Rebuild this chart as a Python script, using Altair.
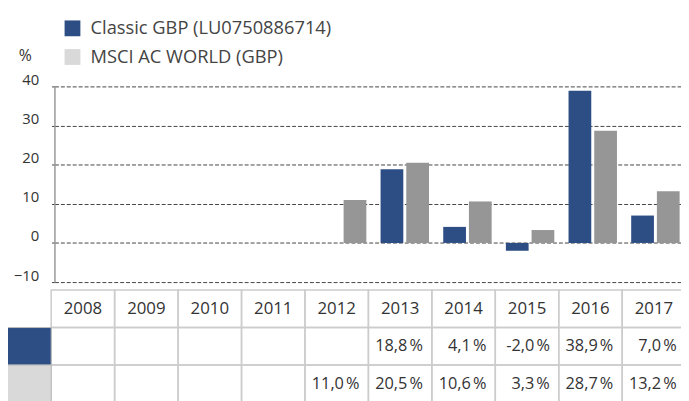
import altair as alt
import pandas as pd

# ---------------- data ----------------
years = ["2008", "2009", "2010", "2011", "2012", "2013", "2014", "2015", "2016", "2017"]
fund_name = "Classic GBP (LU0750886714)"
index_name = "MSCI AC WORLD (GBP)"
fund_values = [None, None, None, None, None, 18.8, 4.1, -2.0, 38.9, 7.0]
index_values = [None, None, None, None, 11.0, 20.5, 10.6, 3.3, 28.7, 13.2]
y_ticks = [-10, 0, 10, 20, 30, 40]

series_names = [fund_name, index_name]
row_keys = ["header", fund_name, index_name]

# ---------------- style ----------------
BLUE = "#2c4e85"
GRAY = "#969696"
LIGHT = "#d9d9d9"
TEXT = "#333333"
FONT = "Open Sans"
W, H = 634, 393


def fmt(v):
    if v is None:
        return ""
    return f"{v:.1f}".replace(".", ",") + "\u202f%"


rows = []
for i, (y, fv, iv) in enumerate(zip(years, fund_values, index_values)):
    for s, v in ((fund_name, fv), (index_name, iv)):
        rows.append({"year": y, "col": i, "series": s, "value": v, "label": fmt(v)})
df = pd.DataFrame(rows)
bars_df = df.dropna(subset=["value"])
values_df = df[df["label"] != ""].rename(columns={"series": "row"})

cells_df = pd.DataFrame([{"col": i, "row": r} for i in range(len(years)) for r in row_keys])
header_df = pd.DataFrame([{"col": i, "row": "header", "label": y} for i, y in enumerate(years)])
swatch_df = pd.DataFrame([{"series": s} for s in series_names])

# ---------------- scales ----------------
bar_x = alt.Scale(domain=years, paddingInner=0, paddingOuter=0)
bar_off = alt.Scale(domain=series_names, paddingInner=0.1154, paddingOuter=0.2769, align=0.903)
bar_y = alt.Scale(domain=[-10, 40], range=[275, 77], nice=False, zero=False)
# table columns in "column units": one unit per year column
tab_x = alt.Scale(domain=[0.0514, 9.927], nice=False, zero=False)
tab_y = alt.Scale(domain=row_keys, range=[283, 397], paddingInner=0, paddingOuter=0)

bars = alt.Chart(bars_df).mark_bar().encode(
    x=alt.X("year:N", scale=bar_x, axis=None),
    xOffset=alt.XOffset("series:N", scale=bar_off),
    y=alt.Y(
        "value:Q",
        scale=bar_y,
        axis=alt.Axis(
            values=y_ticks,
            title="%",
            titleAngle=0,
            titleX=-30,
            titleY=51,
            titleAlign="center",
            titleBaseline="alphabetic",
            titleFont=FONT,
            titleFontSize=16,
            titleFontWeight="normal",
            titleColor=TEXT,
            labelFont=FONT,
            labelFontSize=15,
            labelColor=TEXT,
            labelAlign="right",
            labelBaseline="alphabetic",
            labelOffset=-2,
            labelPadding=13,
            ticks=True,
            tickSize=3,
            tickColor="#444444",
            domainColor="#999999",
            domainWidth=1.5,
            grid=True,
            gridColor="#444444",
            gridDash=[4, 2],
            gridWidth=1,
        ),
    ),
    color=alt.Color("series:N", scale=alt.Scale(domain=series_names, range=[BLUE, GRAY]), legend=None),
)

col_base = alt.Chart(cells_df).transform_calculate(col_end="datum.col + 1")

cells = col_base.mark_rect(fillOpacity=0, stroke="#cccccc", strokeWidth=1.5).encode(
    x=alt.X("col:Q", scale=tab_x, axis=None),
    x2="col_end:Q",
    y=alt.Y("row:N", scale=tab_y, axis=None),
)

header_text = (
    alt.Chart(header_df)
    .transform_calculate(mid="datum.col + 0.5")
    .mark_text(align="center", baseline="middle", font=FONT, fontSize=17, color=TEXT)
    .encode(
        x=alt.X("mid:Q", scale=tab_x, axis=None),
        y=alt.Y("row:N", scale=tab_y, axis=None),
        text="label:N",
    )
)

value_text = (
    alt.Chart(values_df)
    .transform_calculate(right="datum.col + 1")
    .mark_text(align="right", baseline="middle", font=FONT, fontSize=16.5, color=TEXT, dx=-9)
    .encode(
        x=alt.X("right:Q", scale=tab_x, axis=None),
        y=alt.Y("row:N", scale=tab_y, axis=None),
        text="label:N",
    )
)

swatches = (
    alt.Chart(swatch_df)
    .transform_calculate(k0="-0.72", k1="0")
    .mark_rect(stroke="#bbbbbb", strokeWidth=1)
    .encode(
        x=alt.X("k0:Q", scale=tab_x, axis=None),
        x2="k1:Q",
        y=alt.Y("series:N", scale=tab_y, axis=None),
        fill=alt.Fill(
            "series:N",
            scale=alt.Scale(domain=series_names, range=[BLUE, LIGHT]),
            legend=alt.Legend(
                title=None,
                orient="none",
                legendX=9,
                legendY=9,
                direction="vertical",
                symbolType="square",
                symbolSize=256,
                symbolStrokeWidth=0,
                labelFont=FONT,
                labelFontSize=18.5,
                labelColor="#444444",
                labelOffset=9,
                labelLimit=400,
                rowPadding=10,
                padding=0,
            ),
        ),
    )
)

chart = (
    alt.layer(bars, cells, header_text, value_text, swatches)
    .resolve_scale(x="independent", y="independent", color="independent", fill="independent")
    .properties(
        width=W,
        height=H,
        autosize=alt.AutoSizeParams(type="none"),
        padding={"left": 47, "top": 0, "right": 0, "bottom": 0},
    )
    .configure_view(stroke=None)
)

chart.save("out.html", embed_options={"renderer": "svg", "actions": False})
